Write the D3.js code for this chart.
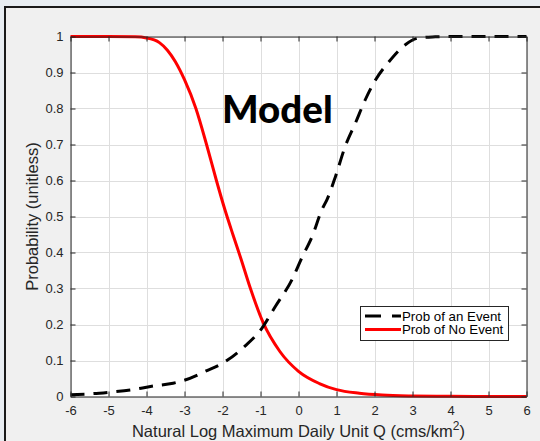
<!DOCTYPE html>
<html><head><meta charset="utf-8">
<script src="https://cdn.jsdelivr.net/npm/d3@7"></script>
<style>html,body{margin:0;padding:0;background:#e8edf2;}svg{display:block;}</style>
</head><body>
<svg id="chart" width="540" height="441"></svg>
<script>
// ---- data ----
const eventX = [-6, -5.4, -4.97, -4.36, -3.83, -3.3, -3.07, -2.69, -2.54, -1.97, -1.41, -0.96, -0.61, -0.17, 0.09, 0.36, 0.62, 0.75, 0.97, 1.23, 1.5, 1.76, 2.03, 2.38, 2.82, 3.17, 3.6, 4, 5, 6];
const eventY = [0.005, 0.008, 0.012, 0.019, 0.029, 0.037, 0.043, 0.058, 0.066, 0.094, 0.14, 0.19, 0.25, 0.325, 0.386, 0.445, 0.52, 0.547, 0.61, 0.695, 0.76, 0.825, 0.88, 0.93, 0.978, 0.996, 0.999, 1, 1, 1];
const noEventX = [-6, -5, -4.3, -4, -3.66, -3.45, -3.24, -3.0, -2.7, -2.42, -2.16, -1.94, -1.72, -1.5, -1.28, -0.93, -0.49, 0, 0.55, 1, 1.6, 2.2, 3, 4, 5, 6];
const noEventY = [1, 1, 0.999, 0.996, 0.983, 0.962, 0.93, 0.88, 0.80, 0.70, 0.60, 0.52, 0.448, 0.378, 0.305, 0.205, 0.125, 0.07, 0.036, 0.019, 0.009, 0.004, 0.0015, 0.0005, 0, 0];
const xTicks = [-6, -5, -4, -3, -2, -1, 0, 1, 2, 3, 4, 5, 6];
const xTickLabels = ["-6", "-5", "-4", "-3", "-2", "-1", "0", "1", "2", "3", "4", "5", "6"];
const yTicks = [0, 0.1, 0.2, 0.3, 0.4, 0.5, 0.6, 0.7, 0.8, 0.9, 1];
const yTickLabels = ["0", "0.1", "0.2", "0.3", "0.4", "0.5", "0.6", "0.7", "0.8", "0.9", "1"];
const seriesNames = ["Prob of an Event", "Prob of No Event"];
const titleText = "Model";
const xLabel = "Natural Log Maximum Daily Unit Q (cms/km";
const yLabel = "Probability (unitless)";

const svg = d3.select("#chart");
const font = "'Liberation Sans', Arial, Helvetica, sans-serif";
const axisColor = "#262626";

// background & frame
svg.append("rect").attr("width", 540).attr("height", 441).attr("fill", "#e8edf2");
svg.append("rect").attr("x", 5).attr("y", 7).attr("width", 545).attr("height", 445)
  .attr("fill", "#f0f0f0").attr("stroke", "#1a1a1a").attr("stroke-width", 2);

const x = d3.scaleLinear().domain([-6, 6]).range([70.5, 526.5]);
const y = d3.scaleLinear().domain([0, 1]).range([396.5, 36.5]);

// plot area
svg.append("rect").attr("x", x(-6)).attr("y", y(1)).attr("width", x(6) - x(-6)).attr("height", y(0) - y(1)).attr("fill", "#fff");

// grid
const grid = svg.append("g").attr("stroke", "#dedede").attr("stroke-width", 1);
grid.selectAll(".gx").data(xTicks).join("line")
  .attr("x1", d => Math.round(x(d)) + 0.5).attr("x2", d => Math.round(x(d)) + 0.5)
  .attr("y1", y(0)).attr("y2", y(1));
grid.selectAll(".gy").data(yTicks).join("line")
  .attr("y1", d => Math.round(y(d)) + 0.5).attr("y2", d => Math.round(y(d)) + 0.5)
  .attr("x1", x(-6)).attr("x2", x(6));

// curves
const line = d3.line().x(d => x(d[0])).y(d => y(d[1])).curve(d3.curveMonotoneX);
const noEvent = noEventX.map((v, i) => [v, noEventY[i]]);
const event = eventX.map((v, i) => [v, eventY[i]]);
svg.append("path").datum(noEvent).attr("d", line).attr("fill", "none")
  .attr("stroke", "#ff0000").attr("stroke-width", 3);
svg.append("path").datum(event).attr("d", line).attr("fill", "none")
  .attr("stroke", "#000").attr("stroke-width", 3).attr("stroke-dasharray", "14,9");

// axes
function styleAxis(g) {
  g.select(".domain").attr("stroke", axisColor).attr("stroke-width", 1);
  g.selectAll(".tick line").attr("stroke", axisColor);
  g.selectAll(".tick text").attr("fill", axisColor).attr("font-family", font).attr("font-size", 13);
}
svg.append("g").attr("transform", `translate(0,${y(0)})`)
  .call(d3.axisBottom(x).tickValues(xTicks).tickSize(-5).tickSizeOuter(0).tickPadding(9).tickFormat((d, i) => xTickLabels[i]))
  .call(styleAxis);
svg.append("g").attr("transform", `translate(0,${y(1)})`)
  .call(d3.axisTop(x).tickValues(xTicks).tickSize(-5).tickSizeOuter(0).tickFormat(""))
  .call(styleAxis);
svg.append("g").attr("transform", `translate(${x(-6)},0)`)
  .call(d3.axisLeft(y).tickValues(yTicks).tickSize(-5).tickSizeOuter(0).tickPadding(7).tickFormat((d, i) => yTickLabels[i]))
  .call(styleAxis);
svg.append("g").attr("transform", `translate(${x(6)},0)`)
  .call(d3.axisRight(y).tickValues(yTicks).tickSize(-5).tickSizeOuter(0).tickFormat(""))
  .call(styleAxis);

// axis labels
const xl = svg.append("text").attr("x", x(0)).attr("y", 437).attr("text-anchor", "middle")
  .attr("font-family", font).attr("font-size", 16.5).attr("fill", axisColor);
xl.append("tspan").text(xLabel);
xl.append("tspan").attr("font-size", 12).attr("dy", -7).text("2");
xl.append("tspan").attr("dy", 7).text(")");

svg.append("text").attr("transform", `translate(38,${y(0.5)}) rotate(-90)`).attr("text-anchor", "middle")
  .attr("font-family", font).attr("font-size", 16.5).attr("fill", axisColor).text(yLabel);

// title annotation
svg.append("text").attr("x", 222).attr("y", 123).attr("font-family", "Lato, 'Open Sans', sans-serif")
  .attr("font-weight", 900).attr("font-size", 38.5).attr("fill", "#000").text(titleText);

// legend
const lg = svg.append("g");
lg.append("rect").attr("x", 360.5).attr("y", 306.5).attr("width", 148).attr("height", 34)
  .attr("fill", "#fff").attr("stroke", axisColor).attr("stroke-width", 1);
const legendStyles = [{stroke: "#000", dash: "16,11"}, {stroke: "#ff0000", dash: null}];
seriesNames.forEach((name, i) => {
  const yy = 316 + i * 13.5;
  lg.append("line").attr("x1", 365).attr("x2", 401).attr("y1", yy).attr("y2", yy)
    .attr("stroke", legendStyles[i].stroke).attr("stroke-width", 3)
    .attr("stroke-dasharray", legendStyles[i].dash);
  lg.append("text").attr("x", 402).attr("y", yy + 4.8).attr("font-family", font)
    .attr("font-size", 13.3).attr("fill", "#000").text(name);
});
</script>
</body></html>
